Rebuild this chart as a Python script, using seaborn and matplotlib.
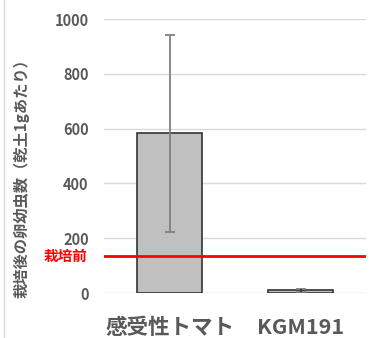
import matplotlib
matplotlib.use("Agg")
import matplotlib.pyplot as plt
import seaborn as sns
import pandas as pd
from matplotlib.lines import Line2D

categories = ["感受性トマト", "KGM191"]
values = [583, 10]
errors = [360, 5]
baseline = 135
baseline_label = "栽培前"
yticks = [0, 200, 400, 600, 800, 1000]
ylabel = "栽培後の卵幼虫数（乾土1gあたり）"

sns.set_theme(style="white")
plt.rcParams['font.family'] = ['Noto Sans CJK JP', 'DejaVu Sans']

fig = plt.figure(figsize=(3.74, 3.38), dpi=100)
ax = fig.add_axes([104/374, 45/338, 262/374, 274/338])

df = pd.DataFrame({"cat": categories, "val": values})
sns.barplot(data=df, x="cat", y="val", ax=ax, color="#c0c0c0", width=0.5,
            edgecolor="#333333", linewidth=1.2, errorbar=None, saturation=1, zorder=3)
ax.errorbar(range(len(categories)), values, yerr=errors, fmt="none",
            ecolor="#7f7f7f", elinewidth=1.3, capsize=3.5, capthick=1.3, zorder=4)
ax.errorbar([1], [values[1]], yerr=[errors[1]], fmt="none", ecolor="#333333",
            elinewidth=1.2, capsize=0, zorder=5)

ax.axhline(baseline, color="#ff0000", lw=2, zorder=6)
ax.text(-17/262, baseline, baseline_label, transform=ax.get_yaxis_transform(),
        ha="right", va="center", color="#ff0000", fontsize=10.5, fontweight="bold")

ax.set_ylim(0, 1000)
ax.set_xlim(-0.5, 1.5)
ax.set_yticks(yticks)
ax.set_yticklabels([str(t) for t in yticks], fontsize=10.5, color="#595959", fontweight="bold")
ax.yaxis.grid(True, color="#d9d9d9", lw=1)
ax.set_axisbelow(True)
for s in ax.spines.values():
    s.set_visible(False)
ax.tick_params(axis="y", length=0, pad=11)
ax.tick_params(axis="x", length=0, pad=17)
ax.set_xticks(range(len(categories)))
ax.set_xticklabels(categories, fontsize=15.5, color="#595959", fontweight="bold")
ax.set_xlabel("")
ax.set_ylabel("")
fig.text(22/374, 1 - 175/338, ylabel, rotation=90, ha="center", va="center",
         fontsize=11, color="#595959", fontweight="bold")

fig.add_artist(Line2D([4/374, 4/374], [0, 1], color="#d9d9d9", lw=1))

fig.savefig("out.png", dpi=100)
